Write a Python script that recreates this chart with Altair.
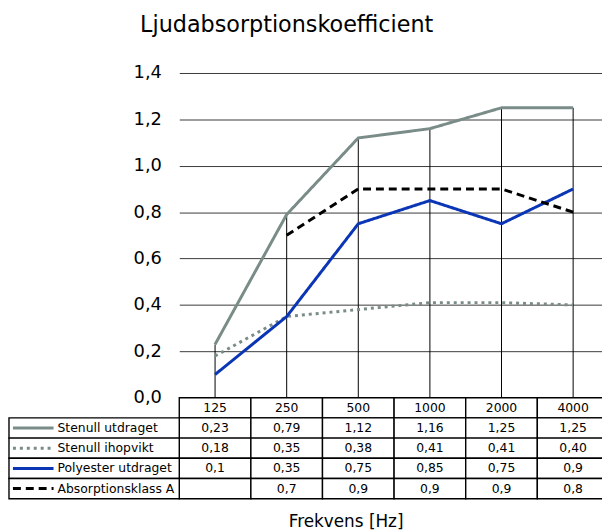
import altair as alt
import pandas as pd

freqs = ["125", "250", "500", "1000", "2000", "4000"]
series_names = ["Stenull utdraget", "Stenull ihopvikt", "Polyester utdraget", "Absorptionsklass A"]
stenull_utdraget = [0.23, 0.79, 1.12, 1.16, 1.25, 1.25]
stenull_ihopvikt = [0.18, 0.35, 0.38, 0.41, 0.41, 0.40]
polyester_utdraget = [0.1, 0.35, 0.75, 0.85, 0.75, 0.9]
absorptionsklass_a = [None, 0.7, 0.9, 0.9, 0.9, 0.8]
decimals = [2, 2, None, None]  # None = shortest form

series_values = [stenull_utdraget, stenull_ihopvikt, polyester_utdraget, absorptionsklass_a]
colors = ["#7a8c88", "#7a8c88", "#0a35b4", "#000000"]
dashes = [[1, 0], [3, 4], [1, 0], [8, 5]]

rows = []
for name, vals, dec in zip(series_names, series_values, decimals):
    for f, v in zip(freqs, vals):
        if v is None:
            txt = ""
        elif dec is None:
            txt = repr(v)
        else:
            txt = f"{v:.{dec}f}"
        rows.append({"freq": f, "series": name, "value": v, "label": txt.replace(".", ",")})
df = pd.DataFrame(rows)

drop = pd.DataFrame({"freq": freqs,
                     "top": [max(v for v in col if v is not None) for col in zip(*series_values)]})

W = 434
H = 328
FONT = "DejaVu Sans"

color_scale = alt.Scale(domain=series_names, range=colors)
dash_scale = alt.Scale(domain=series_names, range=dashes)

xp = alt.X("freq:O", sort=freqs, scale=alt.Scale(type="point", padding=0.5), axis=None)

grid = alt.Chart(drop).mark_rule(color="#000000", strokeWidth=1).encode(
    x=xp,
    y=alt.Y("top:Q"),
    y2=alt.datum(0),
)

lines = alt.Chart(df).transform_filter("datum.value != null").mark_line(strokeWidth=3, strokeCap="butt").encode(
    x=xp,
    y=alt.Y("value:Q", scale=alt.Scale(domain=[0, 1.4], nice=False),
            axis=alt.Axis(values=[0, 0.2, 0.4, 0.6, 0.8, 1.0, 1.2, 1.4],
                          labelExpr="replace(format(datum.value, '.1f'), '.', ',')",
                          title=None, domain=False, ticks=False, grid=True,
                          gridColor="#3a3a3a", gridWidth=1, gridOpacity=1,
                          labelFontSize=18, labelFont=FONT, labelColor="#000000",
                          labelPadding=18)),
    color=alt.Color("series:N", scale=color_scale, legend=None),
    strokeDash=alt.StrokeDash("series:N", scale=dash_scale, legend=None),
    detail="series:N",
)

main = alt.layer(grid, lines).properties(
    width=W, height=H,
    title=alt.TitleParams("Ljudabsorptionskoefficient", anchor="start", dx=7, offset=28,
                          fontSize=22.5, font=FONT, fontWeight="normal", color="#000000"),
)

# ---- data table ----
table_rows = ["hdr"] + series_names
hdr = pd.DataFrame({"freq": freqs, "series": ["hdr"] * len(freqs), "label": freqs})
cells = pd.concat([hdr, df[["freq", "series", "label"]]], ignore_index=True)
names = pd.DataFrame({"series": series_names})

xb = alt.X("freq:N", sort=freqs, scale=alt.Scale(type="band", paddingInner=0, paddingOuter=0),
           axis=alt.Axis(labels=False, ticks=False, domain=False, title="Frekvens [Hz]",
                         titleFont=FONT, titleFontSize=17, titleFontWeight="normal",
                         titleColor="#000000", titlePadding=15, titleX=168))
yb = alt.Y("series:N", sort=table_rows, scale=alt.Scale(type="band", paddingInner=0, paddingOuter=0),
           axis=None)

cell_rect = alt.Chart(cells).mark_rect(fill="white", stroke="#000000", strokeWidth=1.4).encode(x=xb, y=yb)
cell_text = alt.Chart(cells).mark_text(font=FONT, fontSize=12.5, color="#000000").encode(
    x=xb, y=yb, text="label:N")

name_rect = alt.Chart(names).mark_rect(fill="white", stroke="#000000", strokeWidth=1.4).encode(
    x=alt.value(-172), x2=alt.value(0), y=yb)
name_text = alt.Chart(names).mark_text(font=FONT, fontSize=12.5, color="#000000", align="left").encode(
    x=alt.value(-123), y=yb, text="series:N")
swatch = alt.Chart(names).mark_rule(strokeWidth=3, strokeCap="butt").encode(
    x=alt.value(-168), x2=alt.value(-127), y=yb,
    color=alt.Color("series:N", scale=color_scale, legend=None),
    strokeDash=alt.StrokeDash("series:N", scale=dash_scale, legend=None),
)

table = alt.layer(cell_rect, cell_text, name_rect, name_text, swatch).properties(width=W, height=102)

chart = alt.vconcat(main, table, spacing=0, bounds="flush").resolve_scale(
    x="independent", y="independent"
).configure_view(stroke=None).properties(padding={"left": 0, "top": 3, "right": -8, "bottom": 0})

chart.save("out.html", embed_options={"renderer": "svg", "actions": False})
